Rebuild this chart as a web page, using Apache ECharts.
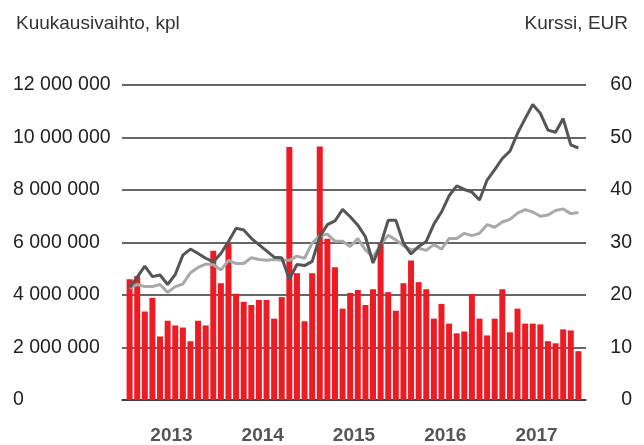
<!DOCTYPE html>
<html>
<head>
<meta charset="utf-8">
<script src="https://cdn.jsdelivr.net/npm/echarts@6/dist/echarts.min.js"></script>
<style>
  html, body { margin: 0; padding: 0; background: #fff; }
  #chart { width: 644px; height: 445px; }
</style>
</head>
<body>
<div id="chart"></div>
<script>
// monthly trading volume (pcs), Jan 2013 - Dec 2017
const volume = [
  4600000, 4720000, 3370000, 3890000, 2420000, 3020000, 2840000, 2760000, 2240000, 3020000, 2840000, 5690000,
  4450000, 5950000, 4050000, 3740000, 3620000, 3810000, 3810000, 3100000, 3920000, 9640000, 4830000, 3000000,
  4830000, 9660000, 6140000, 5060000, 3480000, 4080000, 4190000, 3620000, 4220000, 5950000, 4110000, 3400000,
  4450000, 5310000, 4490000, 4220000, 3100000, 3660000, 2910000, 2540000, 2610000, 4040000, 3100000, 2460000,
  3100000, 4220000, 2580000, 3480000, 2910000, 2910000, 2880000, 2240000, 2160000, 2690000, 2650000, 1860000
];
// share price, EUR
const price = [
  21.4, 23.4, 25.5, 23.5, 23.8, 22.0, 23.9, 27.6, 28.75, 27.9, 27.0, 26.3,
  27.9, 30.2, 32.7, 32.4, 30.8, 29.6, 28.4, 27.2, 27.1, 23.0, 25.8, 25.6,
  26.4, 31.1, 33.4, 34.1, 36.3, 34.9, 33.3, 31.1, 26.1, 29.6, 34.25, 34.25,
  29.9, 27.8, 29.25, 30.2, 33.5, 35.8, 38.9, 40.8, 40.1, 39.6, 38.1, 41.9,
  43.9, 46.0, 47.4, 50.8, 53.6, 56.3, 54.6, 51.4, 51.0, 53.6, 48.6, 48.0
];
// comparison index, EUR scale
const index = [
  21.25, 22.0, 21.6, 21.6, 22.0, 20.5, 21.6, 22.1, 24.25, 25.25, 25.9, 25.75,
  24.75, 26.6, 26.0, 26.0, 27.1, 26.75, 26.6, 26.75, 26.6, 26.6, 27.4, 27.0,
  29.9, 31.25, 31.6, 30.25, 30.25, 29.25, 30.75, 28.6, 27.2, 29.6, 31.4, 30.5,
  29.4, 28.6, 28.9, 28.5, 29.6, 28.75, 30.75, 30.75, 31.75, 31.3, 31.75, 33.4,
  32.9, 33.9, 34.4, 35.6, 36.25, 35.8, 35.0, 35.25, 36.1, 36.4, 35.5, 35.7
];
const years = ["2013", "2014", "2015", "2016", "2017"];
const leftTicks = { min: 0, max: 12000000, interval: 2000000 };
const rightTicks = { min: 0, max: 60, interval: 10 };

const fmt = v => String(v).replace(/\B(?=(\d{3})+(?!\d))/g, " ");
const yearPos = years.map((y, i) => i * 12 + 5.5);
const font = "'Liberation Sans', Arial, sans-serif";

const chart = echarts.init(document.getElementById("chart"));
chart.setOption({
  animation: false,
  textStyle: { fontFamily: font },
  title: [
    { text: "Kuukausivaihto, kpl", left: 11, top: 9,
      textStyle: { fontSize: 19, fontWeight: "normal", color: "#333", fontFamily: font } },
    { text: "Kurssi, EUR", right: 11, top: 9,
      textStyle: { fontSize: 19, fontWeight: "normal", color: "#333", fontFamily: font } }
  ],
  grid: { left: 122, right: 58, top: 85, bottom: 43 },
  xAxis: {
    type: "value",
    min: -1,
    max: volume.length,
    splitLine: { show: false },
    axisTick: { show: false },
    axisLine: { show: true, lineStyle: { color: "#333", width: 1.5 } },
    axisLabel: {
      customValues: yearPos,
      margin: 26,
      fontSize: 19,
      fontWeight: "bold",
      color: "#555",
      formatter: v => years[Math.round((v - 5.5) / 12)]
    }
  },
  yAxis: [
    {
      type: "value",
      min: leftTicks.min, max: leftTicks.max, interval: leftTicks.interval,
      axisLine: { show: false },
      axisTick: { show: false },
      splitLine: { lineStyle: { color: "#333", width: 1.5 } },
      axisLabel: { align: "left", margin: 109, fontSize: 19.5, color: "#222", formatter: fmt }
    },
    {
      type: "value",
      min: rightTicks.min, max: rightTicks.max, interval: rightTicks.interval,
      axisLine: { show: false },
      axisTick: { show: false },
      splitLine: { show: false },
      axisLabel: { align: "right", margin: 46, fontSize: 19.5, color: "#222" }
    }
  ],
  series: [
    {
      type: "bar",
      barWidth: 6,
      itemStyle: { color: "#ed1c24" },
      data: volume.map((v, i) => [i, v])
    },
    {
      type: "line",
      yAxisIndex: 1,
      symbol: "none",
      lineStyle: { color: "#a9a9a9", width: 3 },
      data: index.map((v, i) => [i, v])
    },
    {
      type: "line",
      yAxisIndex: 1,
      symbol: "none",
      lineStyle: { color: "#555", width: 3 },
      data: price.map((v, i) => [i, v])
    }
  ]
});
</script>
</body>
</html>
